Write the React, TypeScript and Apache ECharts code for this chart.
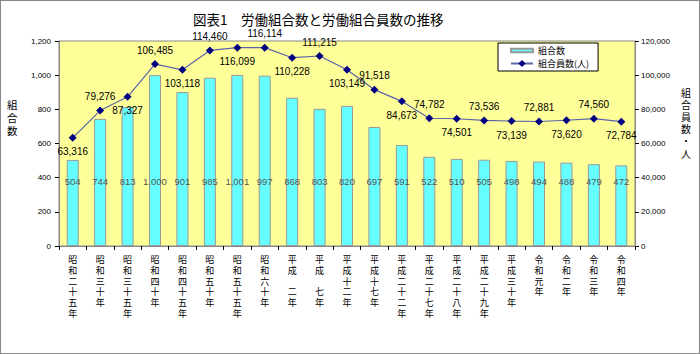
import React, { useEffect, useRef } from "react";
import * as echarts from "echarts";

const categories = [
  "昭和二十五年", "昭和三十年", "昭和三十五年", "昭和四十年", "昭和四十五年",
  "昭和五十年", "昭和五十五年", "昭和六十年", "平成　二年", "平成　七年",
  "平成十二年", "平成十七年", "平成二十二年", "平成二十七年", "平成二十八年",
  "平成二十九年", "平成三十年", "令和元年", "令和二年", "令和三年", "令和四年",
];
const unions = [504, 744, 813, 1000, 901, 985, 1001, 997, 868, 803, 820, 697, 591, 522, 510, 505, 498, 494, 488, 479, 472];
const members = [63316, 79276, 87327, 106485, 103118, 114460, 116099, 116114, 110228, 111215, 103149, 91518, 84673, 74782, 74501, 73536, 73139, 72881, 73620, 74560, 72784];
const titleText = "図表1　労働組合数と労働組合員数の推移";
const leftName = "組合数";
const rightName = "組合員数・人";
const barName = "組合数";
const lineName = "組合員数(人)";

const comma = (v: number) => String(v).replace(/\B(?=(\d{3})+(?!\d))/g, ",");
const vert = (s: string) => s.split("").join("\n");
const CJK = "'Noto Sans CJK JP', 'Noto Sans', sans-serif";
const SANS = "'Liberation Sans', Arial, sans-serif";

export default function App() {
  const ref = useRef<HTMLDivElement>(null);
  useEffect(() => {
    document.body.style.margin = "0";
    if (!ref.current) return;
    const chart = echarts.init(ref.current, null, { renderer: "svg" });
    chart.setOption({
      animation: false,
      backgroundColor: "#ffffff",
      title: {
        text: titleText,
        left: 187,
        top: 6,
        textStyle: { fontFamily: CJK, fontSize: 13.5, fontWeight: "normal", color: "#000" },
      },
      legend: {
        left: 497,
        top: 42,
        orient: "vertical",
        backgroundColor: "#ffffff",
        borderColor: "#000000",
        borderWidth: 1,
        borderRadius: 0,
        padding: [3, 9, 3, 12],
        itemGap: 4,
        itemWidth: 22,
        itemHeight: 9,
        textStyle: { fontFamily: CJK, fontSize: 9, color: "#000" },
        data: [
          { name: barName, icon: "path://M0,3 L22,3 L22,6.5 L0,6.5 Z" },
          { name: lineName },
        ],
      },
      grid: {
        left: 58,
        right: 64,
        top: 40,
        bottom: 107,
        show: true,
        backgroundColor: "#FFFF99",
        borderColor: "#888888",
        borderWidth: 1,
      },
      xAxis: {
        type: "category",
        data: categories,
        axisLine: { lineStyle: { color: "#888" } },
        axisTick: { show: true, length: 4, lineStyle: { color: "#000" } },
        axisLabel: {
          interval: 0,
          formatter: (v: string) => vert(v),
          fontFamily: CJK,
          fontSize: 9,
          lineHeight: 10.8,
          color: "#000",
          margin: 8,
        },
      },
      yAxis: [
        {
          type: "value",
          min: 0,
          max: 1200,
          interval: 200,
          splitLine: { show: false },
          axisLine: { show: true, lineStyle: { color: "#888" } },
          axisTick: { show: true, length: 4, lineStyle: { color: "#000" } },
          axisLabel: { formatter: (v: number) => comma(v), fontSize: 8, color: "#000", margin: 8, fontFamily: SANS },
        },
        {
          type: "value",
          min: 0,
          max: 120000,
          interval: 20000,
          splitLine: { show: false },
          axisLine: { show: true, lineStyle: { color: "#888" } },
          axisTick: { show: true, length: 4, lineStyle: { color: "#000" } },
          axisLabel: { formatter: (v: number) => comma(v), fontSize: 8, color: "#000", margin: 6, fontFamily: SANS },
        },
      ],
      graphic: [
        {
          type: "text",
          left: 6,
          top: 97,
          style: { text: vert(leftName), fontFamily: CJK, fontSize: 10.5, lineHeight: 13, fill: "#000" },
        },
        {
          type: "text",
          left: 680,
          top: 85,
          style: { text: vert(rightName), fontFamily: CJK, fontSize: 10, lineHeight: 12.2, fill: "#000" },
        },
      ],
      series: [
        {
          name: barName,
          type: "bar",
          yAxisIndex: 0,
          data: unions,
          barWidth: 12,
          itemStyle: { color: "#66FFFF", borderColor: "#999999", borderWidth: 1 },
          label: {
            show: true,
            position: "insideBottom",
            distance: 60,
            formatter: (p: any) => comma(p.value),
            fontFamily: SANS,
            fontSize: 9.5,
            color: "#555555",
          },
        },
        {
          name: lineName,
          type: "line",
          yAxisIndex: 1,
          data: members.map((v, i) => ({
            value: v,
            label: { position: i % 2 === 0 ? "bottom" : "top" },
          })),
          symbol: "diamond",
          symbolSize: 8,
          lineStyle: { color: "#5a64a8", width: 1.2 },
          itemStyle: { color: "#000080" },
          label: {
            show: true,
            formatter: (p: any) => comma(p.value),
            fontFamily: SANS,
            fontSize: 10,
            color: "#000",
            distance: 5,
          },
        },
      ],
    });
    return () => chart.dispose();
  }, []);
  return (
    <div
      ref={ref}
      style={{ width: 700, height: 354, boxSizing: "border-box", border: "1px solid #888" }}
    />
  );
}
